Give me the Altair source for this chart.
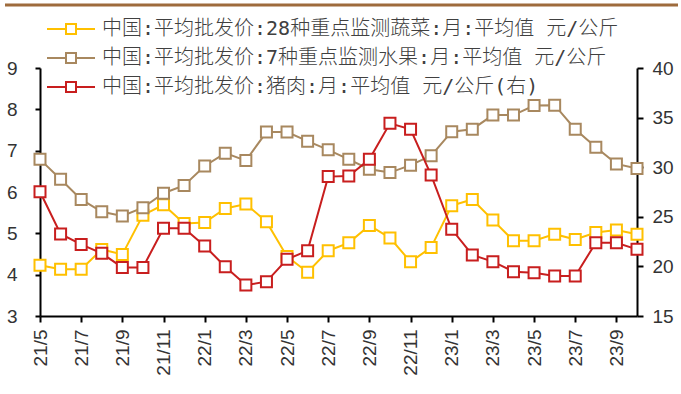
import altair as alt
import pandas as pd

# Monthly observations, May 2021 - Oct 2023
months = [
    "21/5", "21/6", "21/7", "21/8", "21/9", "21/10", "21/11", "21/12",
    "22/1", "22/2", "22/3", "22/4", "22/5", "22/6", "22/7", "22/8",
    "22/9", "22/10", "22/11", "22/12", "23/1", "23/2", "23/3", "23/4",
    "23/5", "23/6", "23/7", "23/8", "23/9", "23/10",
]

# 28 key vegetables, average wholesale price (yuan/kg, left axis)
veg = [4.23, 4.13, 4.13, 4.61, 4.49, 5.44, 5.69, 5.24, 5.26, 5.60,
       5.71, 5.28, 4.44, 4.06, 4.58, 4.77, 5.19, 4.89, 4.31, 4.66,
       5.67, 5.82, 5.32, 4.82, 4.82, 4.98, 4.85, 5.02, 5.08, 4.98]

# 7 key fruits, average wholesale price (yuan/kg, left axis)
fruit = [6.79, 6.31, 5.82, 5.52, 5.42, 5.62, 5.97, 6.16, 6.63, 6.94,
         6.76, 7.45, 7.45, 7.23, 7.02, 6.79, 6.55, 6.47, 6.65, 6.88,
         7.46, 7.52, 7.86, 7.86, 8.09, 8.10, 7.52, 7.08, 6.68, 6.57]

# Pork, average wholesale price (yuan/kg, right axis)
pork = [27.53, 23.27, 22.22, 21.32, 19.90, 19.90, 23.84, 23.84, 22.06, 19.97,
        18.12, 18.46, 20.71, 21.59, 29.05, 29.11, 30.79, 34.42, 33.82, 29.21,
        23.74, 21.15, 20.48, 19.47, 19.37, 19.03, 19.03, 22.39, 22.39, 21.72]

s_veg = "中国:平均批发价:28种重点监测蔬菜:月:平均值 元/公斤"
s_fruit = "中国:平均批发价:7种重点监测水果:月:平均值 元/公斤"
s_pork = "中国:平均批发价:猪肉:月:平均值 元/公斤(右)"
series = [s_veg, s_fruit, s_pork]
colors = ["#FFC000", "#A8885F", "#C81E1E"]

left_df = pd.DataFrame({
    "月份": months * 2,
    "值": veg + fruit,
    "系列": [s_veg] * len(months) + [s_fruit] * len(months),
})
right_df = pd.DataFrame({
    "月份": months,
    "值": pork,
    "系列": [s_pork] * len(months),
})

LABEL_FONT = "Liberation Sans"
TEXT_COLOR = "#333333"

# legend symbol: a short line with a hollow square in the middle
legend_path = "M-4.8,0H-1M1,0H4.8M-1,-1H1V1H-1Z"

color = alt.Color(
    "系列:N",
    scale=alt.Scale(domain=series, range=colors),
    legend=alt.Legend(
        title=None,
        orient="none",
        legendX=0,
        legendY=-49,
        direction="vertical",
        symbolType=legend_path,
        symbolSize=100,
        symbolStrokeWidth=2,
        symbolFillColor="white",
        symbolOffset=21,
        labelOffset=21,
        labelFont="DejaVu Sans Mono, Noto Sans CJK SC",
        labelFontSize=20,
        labelFontWeight=300,
        labelColor="#404040",
        labelLimit=1000,
        rowPadding=9,
        padding=0,
    ),
)

x = alt.X(
    "月份:N",
    sort=months,
    scale=alt.Scale(type="point", padding=0),
    axis=alt.Axis(
        title=None,
        values=months[::2],
        labelAngle=-90,
        labelFont=LABEL_FONT,
        labelFontSize=19,
        labelColor=TEXT_COLOR,
        labelPadding=7,
        domainColor="black",
        domainWidth=2,
        tickColor="black",
        tickWidth=2,
        tickSize=6,
        grid=False,
    ),
)

y_left = alt.Y(
    "值:Q",
    scale=alt.Scale(domain=[3, 9], nice=False, zero=False),
    axis=alt.Axis(
        title=None,
        orient="left",
        values=[3, 4, 5, 6, 7, 8, 9],
        labelFont=LABEL_FONT,
        labelFontSize=19,
        labelColor=TEXT_COLOR,
        labelPadding=18,
        domainColor="black",
        domainWidth=2,
        tickColor="black",
        tickWidth=2,
        tickSize=5,
        grid=False,
    ),
)

y_right = alt.Y(
    "值:Q",
    scale=alt.Scale(domain=[15, 40], nice=False, zero=False),
    axis=alt.Axis(
        title=None,
        orient="right",
        values=[15, 20, 25, 30, 35, 40],
        labelFont=LABEL_FONT,
        labelFontSize=19,
        labelColor=TEXT_COLOR,
        labelPadding=9,
        domainColor="black",
        domainWidth=2,
        tickColor="black",
        tickWidth=2,
        tickSize=6,
        grid=False,
    ),
)

point_style = dict(shape="square", size=121, filled=False, fill="white",
                   fillOpacity=1, strokeWidth=2, opacity=1)

left_base = alt.Chart(left_df).encode(x=x, y=y_left, color=color)
left = alt.layer(
    left_base.mark_line(strokeWidth=2),
    left_base.mark_point(**point_style),
)

right_base = alt.Chart(right_df).encode(x=x, y=y_right, color=color)
right = alt.layer(
    right_base.mark_line(strokeWidth=2),
    right_base.mark_point(**point_style),
)

# thin brown band across the top of the figure
top_rule = alt.Chart(pd.DataFrame({"k": [0]})).mark_rule(
    color="#9E6B3C", strokeWidth=3
).encode(x=alt.value(-35), x2=alt.value(638), y=alt.value(-63))

chart = (
    alt.layer(left, right, top_rule)
    .resolve_scale(y="independent")
    .properties(
        width=597,
        height=248,
        padding={"left": 40, "top": 68, "right": 44, "bottom": 78},
        autosize=alt.AutoSizeParams(type="none"),
        background="white",
    )
    .configure_view(stroke=None)
)

chart.save("out.html", embed_options={"renderer": "svg", "actions": False})
